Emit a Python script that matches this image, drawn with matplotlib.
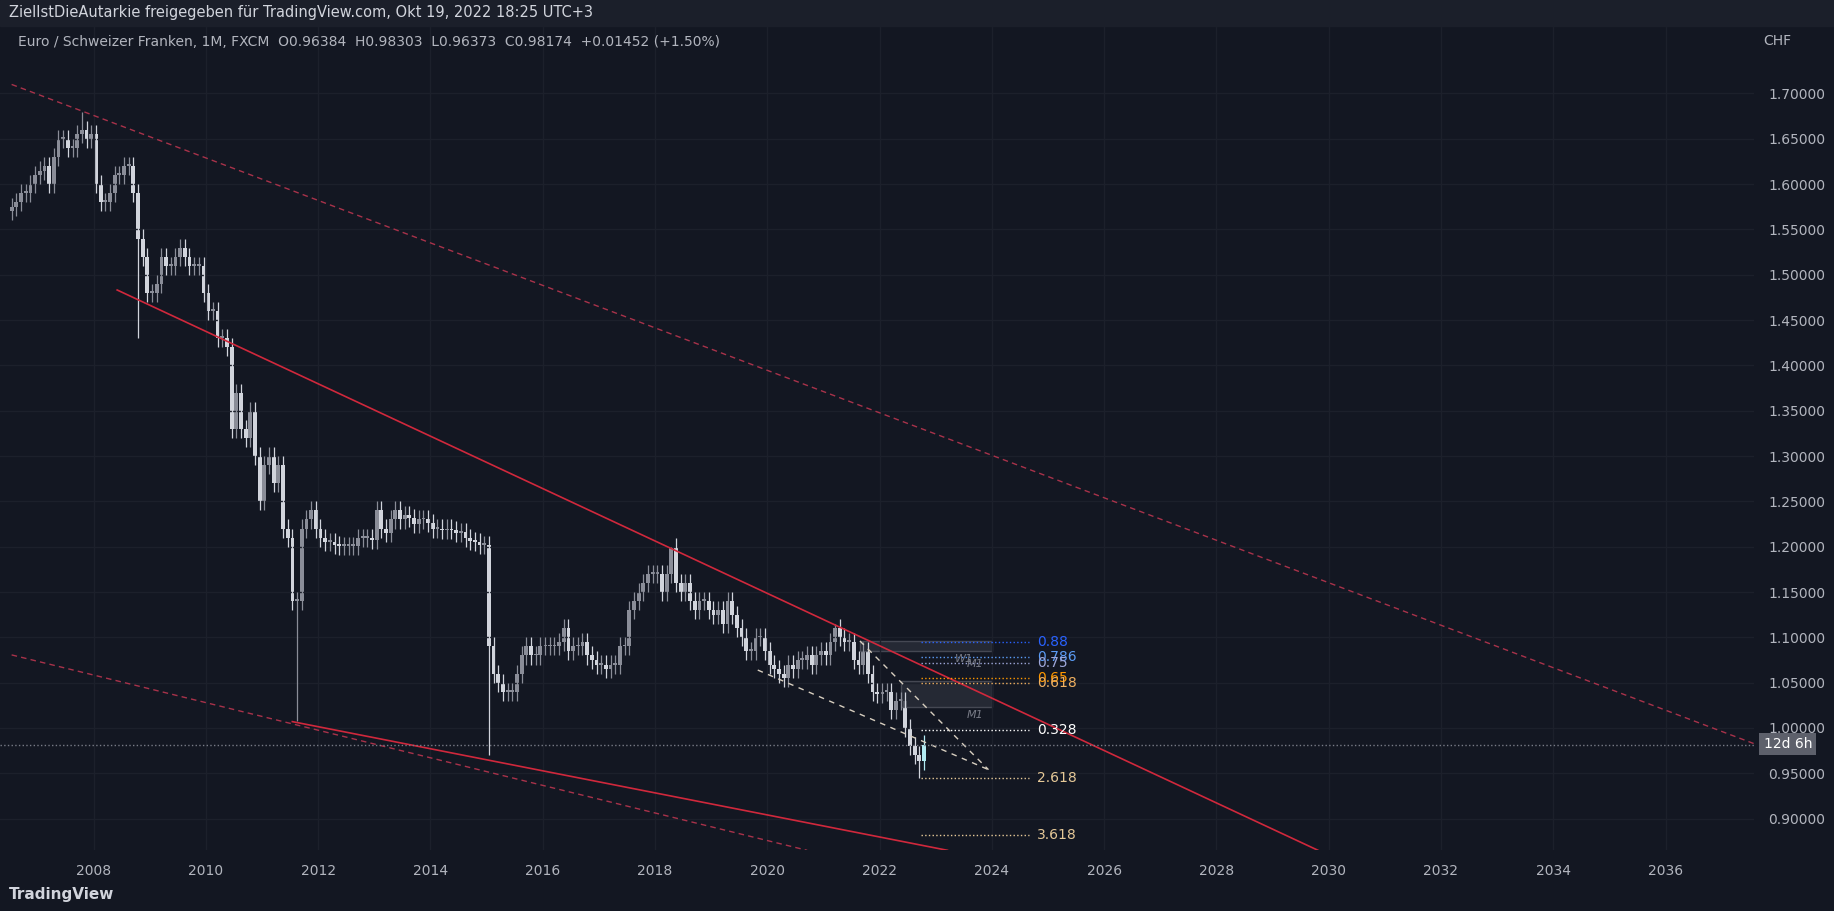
import matplotlib
matplotlib.use("Agg")
import matplotlib.pyplot as plt
from matplotlib.patches import Rectangle
import numpy as np

start_year = 2006.5  # first candle (Jul 2006)
closes = [
 1.575,1.58,1.59,1.59,1.60,1.61,
 1.615,1.62,1.60,1.63,1.65,1.65,1.64,1.64,1.655,1.66,1.65,1.655,
 1.60,1.58,1.58,1.59,1.61,1.61,1.62,1.62,1.59,1.54,1.52,1.48,
 1.48,1.49,1.52,1.51,1.51,1.52,1.53,1.52,1.51,1.51,1.51,1.48,
 1.46,1.46,1.43,1.43,1.42,1.33,1.37,1.33,1.32,1.35,1.30,1.25,
 1.29,1.30,1.27,1.29,1.22,1.21,1.14,1.14,1.22,1.23,1.24,1.22,
 1.21,1.205,1.205,1.202,1.201,1.201,1.201,1.201,1.21,1.21,1.21,1.207,
 1.24,1.22,1.215,1.23,1.24,1.23,1.235,1.232,1.225,1.23,1.23,1.226,
 1.22,1.22,1.218,1.22,1.218,1.215,1.216,1.21,1.206,1.205,1.202,1.202,
 1.09,1.06,1.05,1.04,1.04,1.04,1.06,1.08,1.09,1.08,1.08,1.09,
 1.09,1.09,1.09,1.095,1.11,1.085,1.09,1.09,1.095,1.08,1.075,1.07,
 1.07,1.065,1.07,1.07,1.09,1.09,1.13,1.14,1.15,1.16,1.17,1.17,
 1.17,1.15,1.17,1.20,1.16,1.15,1.16,1.14,1.13,1.14,1.14,1.13,
 1.125,1.13,1.115,1.14,1.125,1.11,1.10,1.085,1.085,1.10,1.10,1.085,
 1.07,1.065,1.06,1.055,1.07,1.065,1.075,1.075,1.08,1.07,1.08,1.085,
 1.08,1.095,1.11,1.10,1.095,1.095,1.075,1.07,1.085,1.06,1.04,1.037,
 1.04,1.04,1.02,1.03,1.03,1.00,0.98,0.97,0.964,0.98174,
]
first_open = 1.57
wick = 0.010
special_lows = {27: 1.43, 61: 1.0075, 102: 0.97, 194: 0.945}
special_highs = {15: 1.68, 141: 1.20, 176: 1.115}

fib_levels = [0.88, 0.786, 0.75, 0.65, 0.618, 0.328, 2.618, 3.618]
fib_prices = [1.095, 1.078, 1.0716, 1.055, 1.050, 0.998, 0.945, 0.882]
fib_colors = ["#2962ff", "#5b9cf6", "#9fa8da", "#ff9800", "#f0b060", "#ffffff", "#e6c998", "#e6c998"]

year_ticks = list(range(2008, 2038, 2))
price_ticks = [0.90, 0.95, 1.00, 1.05, 1.10, 1.15, 1.20, 1.25, 1.30, 1.35, 1.40, 1.45, 1.50, 1.55, 1.60, 1.65, 1.70]

BG = "#131722"
fig = plt.figure(figsize=(18.34, 9.11), dpi=100, facecolor=BG)
ax = fig.add_axes([0, 0.0668, 0.9566, 0.905])
ax.set_facecolor(BG)
ax.set_xlim(2006.333, 2037.583)
ax.set_ylim(0.8652, 1.7748)
for s in ax.spines.values():
    s.set_visible(False)
ax.set_xticks(year_ticks)
ax.set_xticklabels([str(y) for y in year_ticks])
ax.yaxis.tick_right()
ax.set_yticks(price_ticks)
ax.set_yticklabels([f"{p:.5f}" for p in price_ticks])
ax.tick_params(colors="#b2b5be", labelsize=10, length=0, pad=10)
ax.grid(color="#1c202b", lw=1)

# candles
o = first_open
n = len(closes)
for i, c in enumerate(closes):
    x = start_year + i / 12 + 1 / 24
    hi = special_highs.get(i, max(o, c) + wick)
    lo = special_lows.get(i, min(o, c) - wick)
    up = c >= o
    col = "#b2ebf2" if i == n - 1 else ("#8a8d98" if up else "#d1d4dc")
    ax.vlines(x, lo, hi, color=col, lw=0.9)
    h = max(abs(c - o), 0.002)
    ax.add_patch(Rectangle((x - 0.034, min(o, c)), 0.068, h, color=col, lw=0))
    o = c

red = "#d0283c"
ax.plot([2008.42, 2029.81], [1.4832, 0.865], color=red, lw=1.2)
ax.plot([2011.54, 2023.21], [1.007, 0.865], color=red, lw=1.2)
ax.plot([2006.54, 2037.58], [1.710, 0.9826], color="#a8324a", lw=1, ls=(0, (4, 3)))
ax.plot([2006.54, 2020.71], [1.0806, 0.865], color="#a8324a", lw=1, ls=(0, (4, 3)))
ax.plot([2019.83, 2023.94], [1.0639, 0.954], color="#d8cfc0", lw=1, ls=(0, (4, 4)))
ax.plot([2021.65, 2023.94], [1.096, 0.954], color="#d8cfc0", lw=1, ls=(0, (4, 4)))

ax.add_patch(Rectangle((2021.65, 1.0845), 2.35, 0.0115, facecolor="#2a2e39", edgecolor="#50535e", lw=1, alpha=0.8))
ax.add_patch(Rectangle((2022.375, 1.0226), 1.625, 0.0294, facecolor="#2a2e39", edgecolor="#50535e", lw=1, alpha=0.8))
ax.text(2023.55, 1.0675, "M1", color="#787b86", fontsize=8, style="italic")
ax.text(2023.55, 1.011, "M1", color="#787b86", fontsize=8, style="italic")
ax.text(2023.35, 1.0725, "W1", color="#787b86", fontsize=8, style="italic")

for lv, pr, col in zip(fib_levels, fib_prices, fib_colors):
    ax.plot([2022.73, 2024.67], [pr, pr], color=col, lw=1, ls=":")
    ax.text(2024.8, pr, f"{lv:g}", color=col, fontsize=10, va="center")

ax.axhline(0.98174, color="#787b86", lw=1, ls=":")
fig.text(0.9566 + 0.005, 1 - 636 / 779, "12d 6h", color="#ffffff", fontsize=10, va="center",
         bbox=dict(boxstyle="square,pad=0.3", fc="#5d606b", ec="none"))
fig.text(0.9566 + 0.005, 1 - 35 / 779, "CHF", color="#b2b5be", fontsize=10, va="center")

# header
fig.patches.append(Rectangle((0, 1 - 22 / 779), 1, 22 / 779, transform=fig.transFigure, color="#1b1f2a"))
fig.text(0.005, 1 - 11 / 779, "ZielIstDieAutarkie freigegeben für TradingView.com, Okt 19, 2022 18:25 UTC+3",
         color="#d1d4dc", fontsize=10.5, va="center")
fig.text(0.01, 1 - 36 / 779, "Euro / Schweizer Franken, 1M, FXCM  O0.96384  H0.98303  L0.96373  C0.98174  +0.01452 (+1.50%)",
         color="#b2b5be", fontsize=10, va="center")
fig.text(0.005, 1 - 765 / 779, "TradingView", color="#d1d4dc", fontsize=11, va="center", weight="bold")

fig.savefig("out.png", dpi=100, facecolor=BG)
